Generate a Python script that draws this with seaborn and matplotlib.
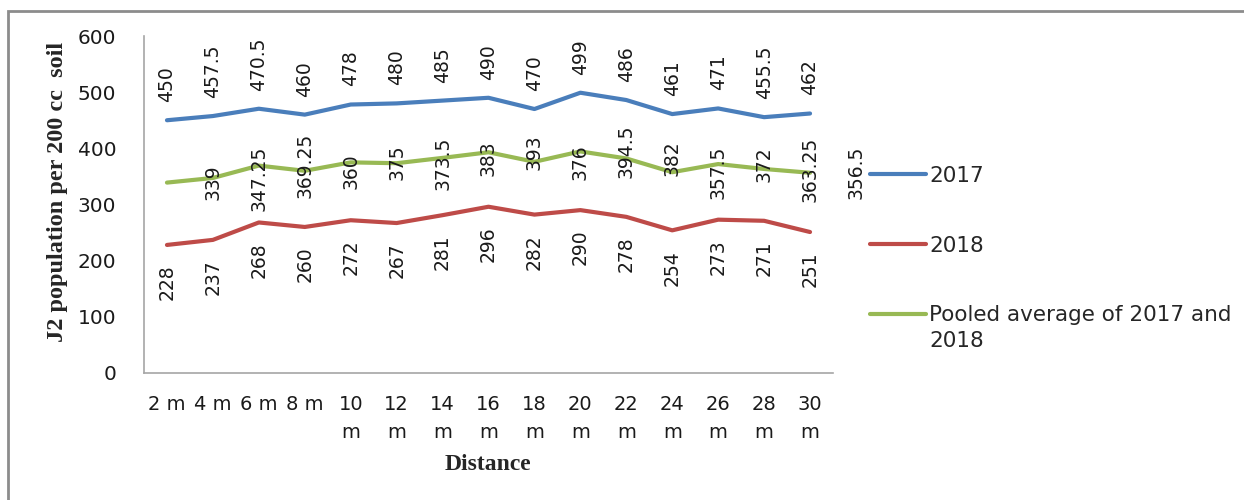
import numpy as np
import pandas as pd
import matplotlib
matplotlib.use("Agg")
import matplotlib.pyplot as plt
import matplotlib.transforms as mtransforms
from matplotlib.patches import Rectangle
import seaborn as sns

# Sampling distances and J2 counts per 200 cc soil
distances = ["2 m", "4 m", "6 m", "8 m", "10\nm", "12\nm", "14\nm", "16\nm",
             "18\nm", "20\nm", "22\nm", "24\nm", "26\nm", "28\nm", "30\nm"]
y2017 = [450, 457.5, 470.5, 460, 478, 480, 485, 490, 470, 499, 486, 461, 471, 455.5, 462]
y2018 = [228, 237, 268, 260, 272, 267, 281, 296, 282, 290, 278, 254, 273, 271, 251]
pooled = [339, 347.25, 369.25, 360, 375, 373.5, 383, 393, 376, 394.5, 382, 357.5, 372, 363.25, 356.5]
series_names = ["2017", "2018", "Pooled average of 2017 and\n2018"]
colors = ["#4A7EBB", "#BE4B48", "#98B954"]

df = pd.DataFrame({
    "Distance": distances * 3,
    "value": y2017 + y2018 + pooled,
    "series": [series_names[0]] * 15 + [series_names[1]] * 15 + [series_names[2]] * 15,
})

sns.set_style("white")
plt.rcParams["font.family"] = ["DejaVu Sans"]

fig = plt.figure(figsize=(12.44, 5.0), dpi=100)
ax = fig.add_axes([144 / 1244, 127 / 500, 689 / 1244, 337 / 500])

sns.lineplot(data=df, x="Distance", y="value", hue="series", sort=False,
             palette=colors, linewidth=3, ax=ax, legend=True)

# value labels
label_size = 13.5
pos = np.arange(len(distances))
for i, v in enumerate(y2017):
    ax.annotate(f"{v:g}", (pos[i], v), xytext=(0, 13), textcoords="offset points",
                rotation=90, ha="center", va="bottom", fontsize=label_size, color="#1a1a1a")
for i, v in enumerate(y2018):
    ax.annotate(f"{v:g}", (pos[i], v), xytext=(0, -14), textcoords="offset points",
                rotation=90, ha="center", va="top", fontsize=label_size, color="#1a1a1a")
for i, v in enumerate(pooled):
    ax.annotate(f"{v:g}", (pos[i] + 1, v), xytext=(0, 0), textcoords="offset points",
                rotation=90, ha="center", va="center", fontsize=label_size, color="#1a1a1a",
                annotation_clip=False)

ax.set_xlim(-0.5, len(distances) - 0.5)
ax.set_ylim(0, 600)
ax.set_yticks(np.arange(0, 601, 100))
ax.set_xticks(pos)
ax.set_xticklabels(distances)
ax.set_xticks(np.arange(-0.5, len(distances)), minor=True)
ax.tick_params(axis="x", which="major", length=0, pad=16, labelsize=14, colors="#1a1a1a")
ax.tick_params(axis="x", which="minor", length=8, width=1.2, color="#a6a6a6", direction="out")
ax.tick_params(axis="y", which="major", length=8, width=1.2, color="#a6a6a6", direction="out",
               pad=12, labelsize=14.5, labelcolor="#1a1a1a")
for t in ax.get_xticklabels():
    t.set_linespacing(1.6)
    t.set_verticalalignment("top")

for side in ["top", "right"]:
    ax.spines[side].set_visible(False)
for side in ["left", "bottom"]:
    ax.spines[side].set_color("#a6a6a6")
    ax.spines[side].set_linewidth(1.2)

ax.set_xlabel("")
ax.set_ylabel("")
fig.text(57 / 1244, 1 - 192 / 500, "J2 population per 200 cc  soil", rotation=90,
         ha="center", va="center", fontsize=17.5, fontweight="bold",
         family=["Liberation Serif"])
fig.text(488 / 1244, 1 - 465 / 500, "Distance", ha="center", va="center",
         fontsize=17, fontweight="bold", family=["Liberation Serif"])

handles, labels = ax.get_legend_handles_labels()
ax.legend_.remove()
leg = fig.legend(handles, labels, loc="upper left", bbox_to_anchor=(870 / 1244, 1 - 166 / 500),
                 frameon=False, fontsize=15.5, handlelength=2.6, handletextpad=0.15,
                 labelspacing=2.3, borderpad=0, borderaxespad=0)
for t in leg.get_texts():
    t.set_linespacing(1.35)
# keep the two-line entry's swatch level with its first line
h3 = leg.legend_handles[2]
h3.set_transform(h3.get_transform() + mtransforms.Affine2D().translate(0, 14))

# outer chart border
fig.patches.append(Rectangle((8 / 1244, -0.1), 1.2, 1 - 11 / 500 + 0.1, transform=fig.transFigure,
                             fill=False, edgecolor="#8c8c8c", linewidth=2))

fig.savefig("out.png", dpi=100)
